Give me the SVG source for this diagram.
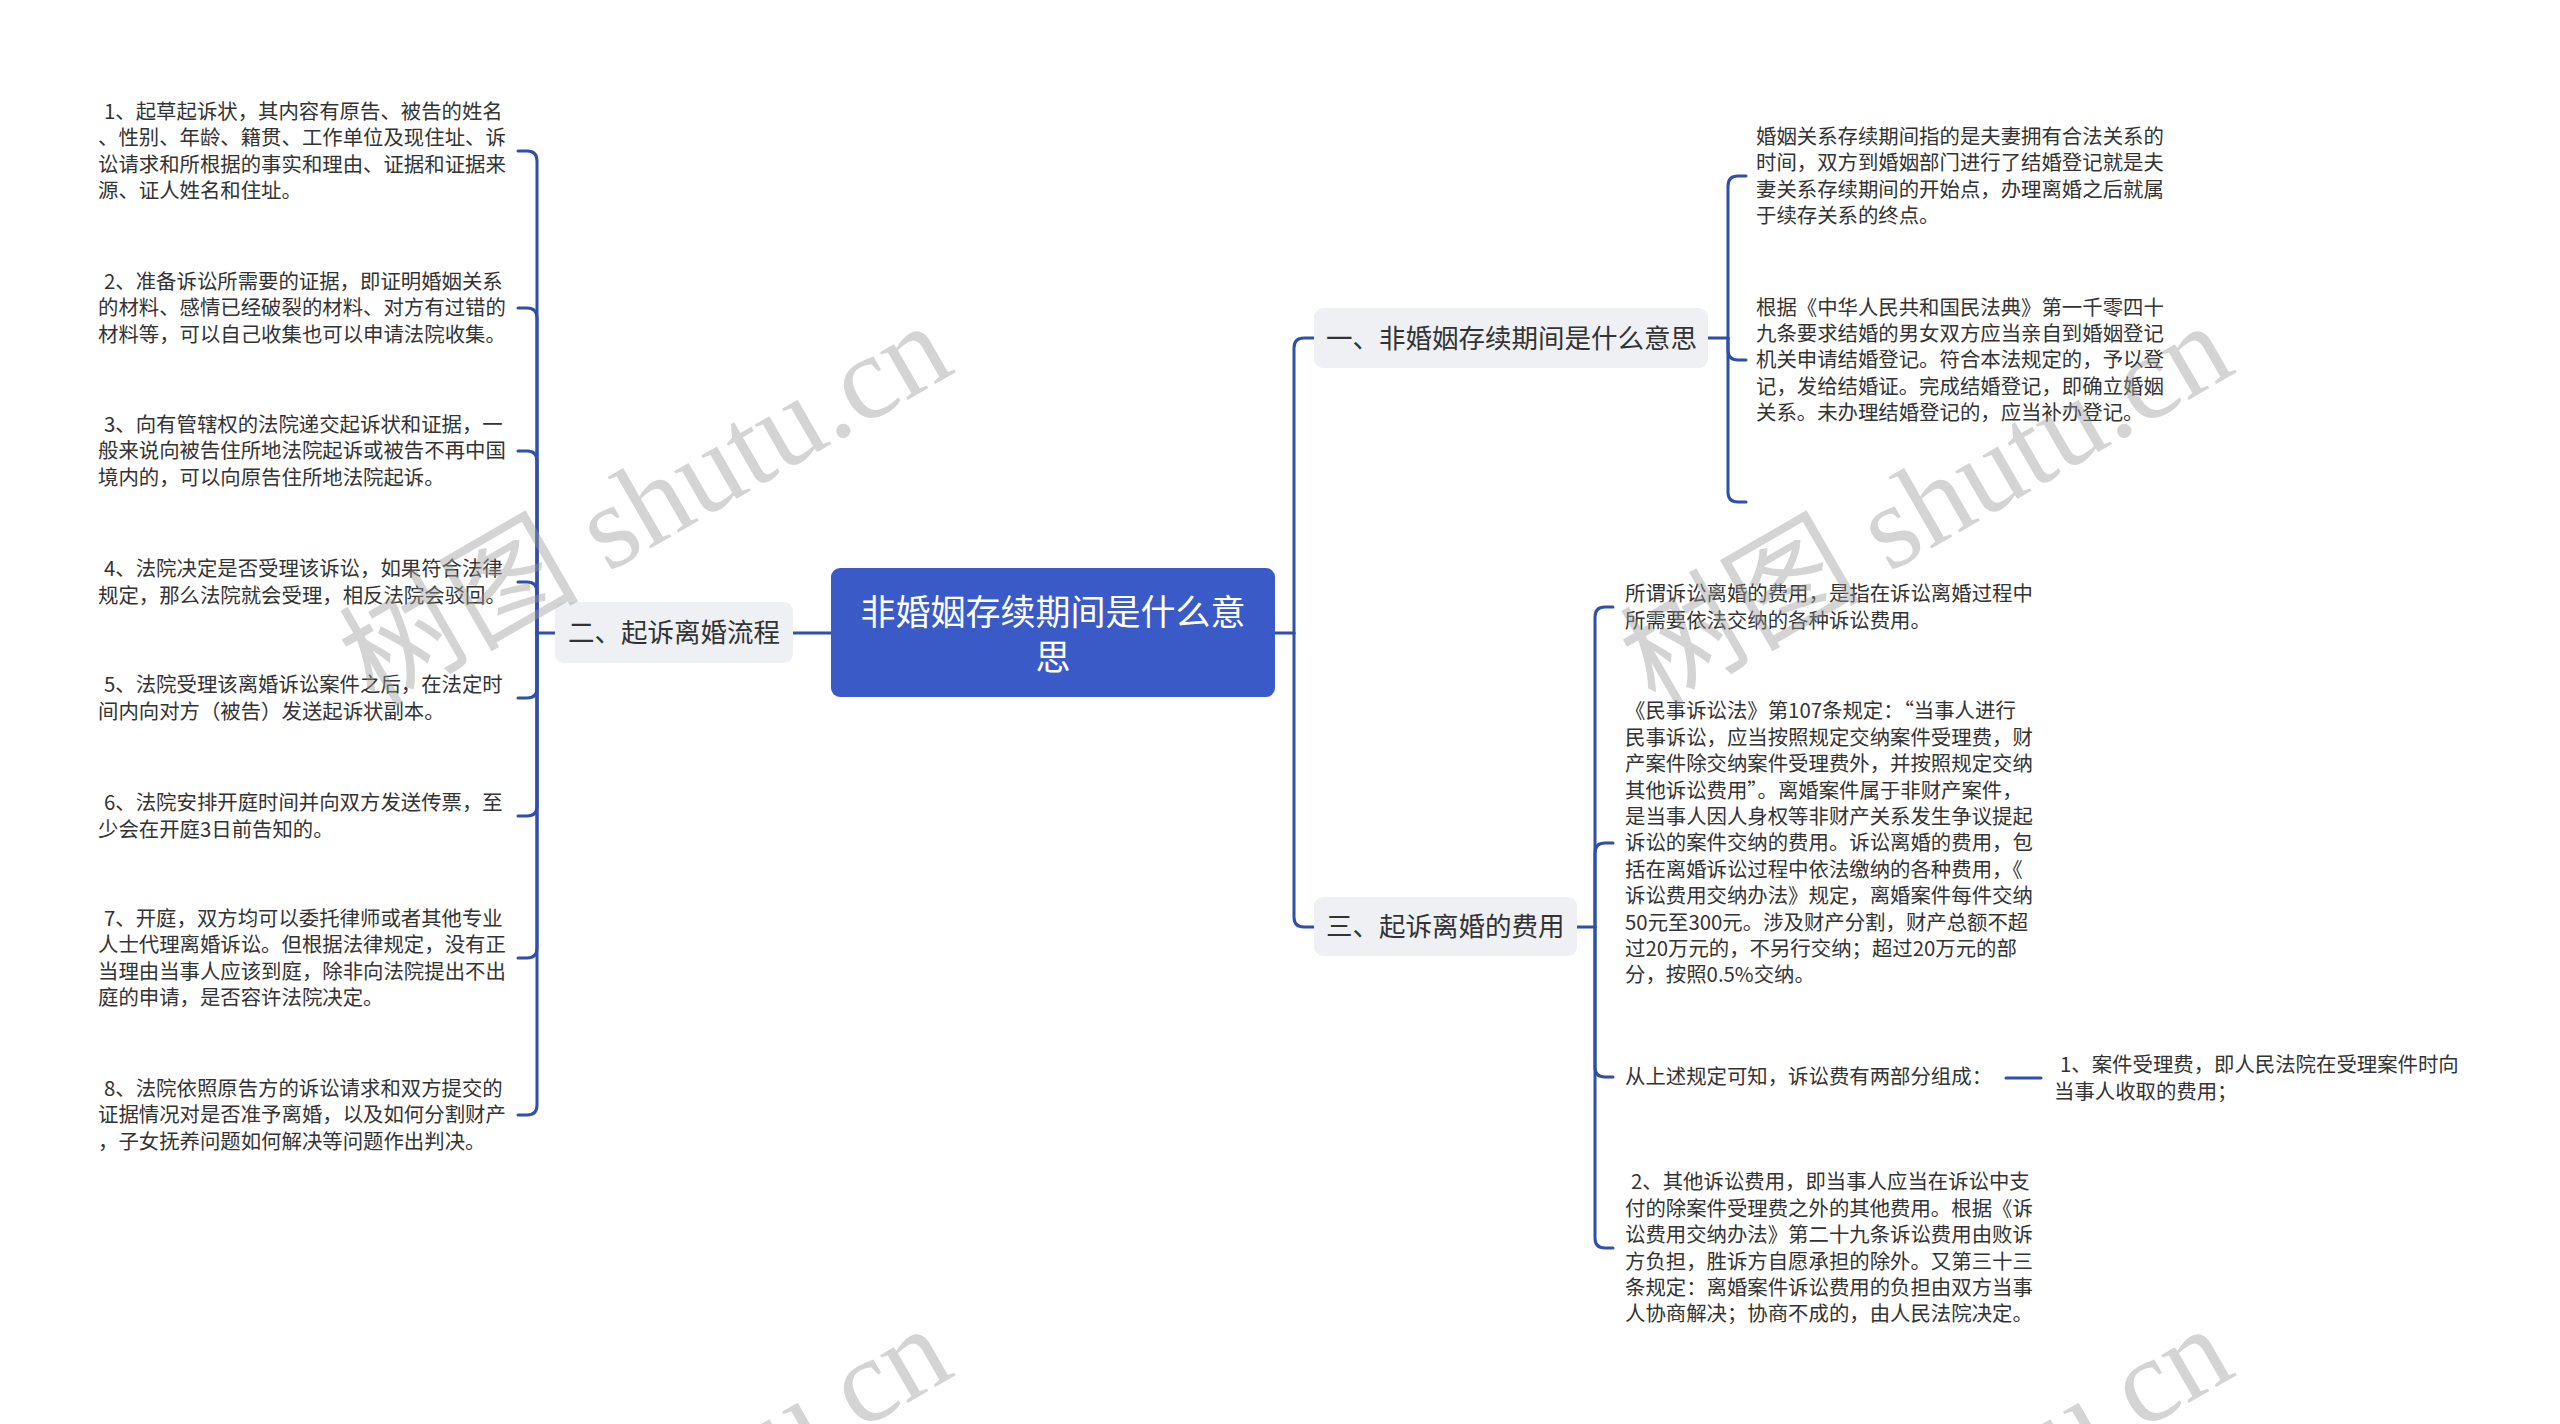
<svg xmlns="http://www.w3.org/2000/svg" width="2560" height="1424" viewBox="0 0 2560 1424">
<style>
text { font-family: "Noto Sans CJK SC", "Noto Sans", sans-serif; }
.leaf { font-size: 20.4px; fill: #333333; }
.topic-box { fill: #eef0f4; }
.topic { font-size: 26.5px; fill: #333333; }
.root-box { fill: #3a5bc7; }
.root { font-size: 35px; fill: #ffffff; }
.conn path { fill: none; stroke: #2f4fa8; stroke-width: 3; stroke-linecap: round; }
.wm { font-family: "Liberation Serif", "Noto Sans CJK SC", serif; font-size: 120px; fill: #999999; fill-opacity: 0.42; }
</style>
<rect width="2560" height="1424" fill="#ffffff"/>

<g id="connectors" class="conn">
  <path d="M831,633 H793"/>
  <path d="M555,633 H537"/>
  <path d="M537,633 V161 Q537,151 527,151 H518"/>
  <path d="M537,633 V318 Q537,308 527,308 H518"/>
  <path d="M537,633 V461 Q537,451 527,451 H518"/>
  <path d="M537,633 V592 Q537,582 527,582 H518"/>
  <path d="M537,633 V688 Q537,698 527,698 H518"/>
  <path d="M537,633 V806 Q537,816 527,816 H518"/>
  <path d="M537,633 V948 Q537,958 527,958 H518"/>
  <path d="M537,633 V1105 Q537,1115 527,1115 H518"/>
  <path d="M1275,633 H1294"/>
  <path d="M1294,633 V348 Q1294,338 1304,338 H1314"/>
  <path d="M1294,633 V917 Q1294,927 1304,927 H1314"/>
  <path d="M1708,338 H1728"/>
  <path d="M1728,338 V186 Q1728,176 1738,176 H1746"/>
  <path d="M1728,338 V350 Q1728,360 1738,360 H1746"/>
  <path d="M1728,338 V492 Q1728,502 1738,502 H1746"/>
  <path d="M1577,927 H1595"/>
  <path d="M1595,927 V617 Q1595,607 1605,607 H1613"/>
  <path d="M1595,927 V853 Q1595,843 1605,843 H1613"/>
  <path d="M1595,927 V1067 Q1595,1077 1605,1077 H1613"/>
  <path d="M1595,927 V1238 Q1595,1248 1605,1248 H1613"/>
  <path d="M2006,1078 H2041"/>
</g>

<g id="root">
  <rect class="root-box" x="831" y="568" width="444" height="129" rx="9"/>
  <text class="root" text-anchor="middle"><tspan x="1053" y="624.6">非婚姻存续期间是什么意</tspan><tspan x="1053" y="669.6">思</tspan></text>
</g>

<g id="topic-2">
  <rect class="topic-box" x="555" y="602" width="238" height="61" rx="9"/>
  <text class="topic" x="568" y="642">二、起诉离婚流程</text>
</g>
<g id="topic-1">
  <rect class="topic-box" x="1314" y="308" width="394" height="60" rx="9"/>
  <text class="topic" x="1326" y="347.5">一、非婚姻存续期间是什么意思</text>
</g>
<g id="topic-3">
  <rect class="topic-box" x="1314" y="897" width="263" height="59" rx="9"/>
  <text class="topic" x="1326" y="936">三、起诉离婚的费用</text>
</g>

<g id="leaf-2-1"><text class="leaf"><tspan x="104" y="118.7">1、起草起诉状，其内容有原告、被告的姓名</tspan><tspan x="98" dy="26.4">、性别、年龄、籍贯、工作单位及现住址、诉</tspan><tspan x="98" dy="26.4">讼请求和所根据的事实和理由、证据和证据来</tspan><tspan x="98" dy="26.4">源、证人姓名和住址。</tspan></text></g>
<g id="leaf-2-2"><text class="leaf"><tspan x="104" y="288.9">2、准备诉讼所需要的证据，即证明婚姻关系</tspan><tspan x="98" dy="26.4">的材料、感情已经破裂的材料、对方有过错的</tspan><tspan x="98" dy="26.4">材料等，可以自己收集也可以申请法院收集。</tspan></text></g>
<g id="leaf-2-3"><text class="leaf"><tspan x="104" y="431.9">3、向有管辖权的法院递交起诉状和证据，一</tspan><tspan x="98" dy="26.4">般来说向被告住所地法院起诉或被告不再中国</tspan><tspan x="98" dy="26.4">境内的，可以向原告住所地法院起诉。</tspan></text></g>
<g id="leaf-2-4"><text class="leaf"><tspan x="104" y="576.1">4、法院决定是否受理该诉讼，如果符合法律</tspan><tspan x="98" dy="26.4">规定，那么法院就会受理，相反法院会驳回。</tspan></text></g>
<g id="leaf-2-5"><text class="leaf"><tspan x="104" y="692.1">5、法院受理该离婚诉讼案件之后，在法定时</tspan><tspan x="98" dy="26.4">间内向对方（被告）发送起诉状副本。</tspan></text></g>
<g id="leaf-2-6"><text class="leaf"><tspan x="104" y="810.1">6、法院安排开庭时间并向双方发送传票，至</tspan><tspan x="98" dy="26.4">少会在开庭3日前告知的。</tspan></text></g>
<g id="leaf-2-7"><text class="leaf"><tspan x="104" y="925.7">7、开庭，双方均可以委托律师或者其他专业</tspan><tspan x="98" dy="26.4">人士代理离婚诉讼。但根据法律规定，没有正</tspan><tspan x="98" dy="26.4">当理由当事人应该到庭，除非向法院提出不出</tspan><tspan x="98" dy="26.4">庭的申请，是否容许法院决定。</tspan></text></g>
<g id="leaf-2-8"><text class="leaf"><tspan x="104" y="1095.9">8、法院依照原告方的诉讼请求和双方提交的</tspan><tspan x="98" dy="26.4">证据情况对是否准予离婚，以及如何分割财产</tspan><tspan x="98" dy="26.4">，子女抚养问题如何解决等问题作出判决。</tspan></text></g>

<g id="leaf-1-1"><text class="leaf"><tspan x="1756" y="143.7">婚姻关系存续期间指的是夫妻拥有合法关系的</tspan><tspan x="1756" dy="26.4">时间，双方到婚姻部门进行了结婚登记就是夫</tspan><tspan x="1756" dy="26.4">妻关系存续期间的开始点，办理离婚之后就属</tspan><tspan x="1756" dy="26.4">于续存关系的终点。</tspan></text></g>
<g id="leaf-1-2"><text class="leaf"><tspan x="1756" y="314.5">根据《中华人民共和国民法典》第一千零四十</tspan><tspan x="1756" dy="26.4">九条要求结婚的男女双方应当亲自到婚姻登记</tspan><tspan x="1756" dy="26.4">机关申请结婚登记。符合本法规定的，予以登</tspan><tspan x="1756" dy="26.4">记，发给结婚证。完成结婚登记，即确立婚姻</tspan><tspan x="1756" dy="26.4">关系。未办理结婚登记的，应当补办登记。</tspan></text></g>

<g id="leaf-3-1"><text class="leaf"><tspan x="1625" y="601.1">所谓诉讼离婚的费用，是指在诉讼离婚过程中</tspan><tspan x="1625" dy="26.4">所需要依法交纳的各种诉讼费用。</tspan></text></g>
<g id="leaf-3-2"><text class="leaf"><tspan x="1625" y="718.3">《民事诉讼法》第107条规定：“当事人进行</tspan><tspan x="1625" dy="26.4">民事诉讼，应当按照规定交纳案件受理费，财</tspan><tspan x="1625" dy="26.4">产案件除交纳案件受理费外，并按照规定交纳</tspan><tspan x="1625" dy="26.4">其他诉讼费用”。离婚案件属于非财产案件，</tspan><tspan x="1625" dy="26.4">是当事人因人身权等非财产关系发生争议提起</tspan><tspan x="1625" dy="26.4">诉讼的案件交纳的费用。诉讼离婚的费用，包</tspan><tspan x="1625" dy="26.4">括在离婚诉讼过程中依法缴纳的各种费用，《</tspan><tspan x="1625" dy="26.4">诉讼费用交纳办法》规定，离婚案件每件交纳</tspan><tspan x="1625" dy="26.4">50元至300元。涉及财产分割，财产总额不超</tspan><tspan x="1625" dy="26.4">过20万元的，不另行交纳；超过20万元的部</tspan><tspan x="1625" dy="26.4">分，按照0.5%交纳。</tspan></text></g>
<g id="leaf-3-3"><text class="leaf" x="1625" y="1084.3">从上述规定可知，诉讼费有两部分组成：</text></g>
<g id="leaf-3-3-1"><text class="leaf"><tspan x="2060" y="1072.1">1、案件受理费，即人民法院在受理案件时向</tspan><tspan x="2054" dy="26.4">当事人收取的费用；</tspan></text></g>
<g id="leaf-3-4"><text class="leaf"><tspan x="1631" y="1189.3">2、其他诉讼费用，即当事人应当在诉讼中支</tspan><tspan x="1625" dy="26.4">付的除案件受理费之外的其他费用。根据《诉</tspan><tspan x="1625" dy="26.4">讼费用交纳办法》第二十九条诉讼费用由败诉</tspan><tspan x="1625" dy="26.4">方负担，胜诉方自愿承担的除外。又第三十三</tspan><tspan x="1625" dy="26.4">条规定：离婚案件诉讼费用的负担由双方当事</tspan><tspan x="1625" dy="26.4">人协商解决；协商不成的，由人民法院决定。</tspan></text></g>

<g id="watermarks">
  <text class="wm" transform="translate(374,708) rotate(-30)">树图 shutu.cn</text>
  <text class="wm" transform="translate(1655,708) rotate(-30)">树图 shutu.cn</text>
  <text class="wm" transform="translate(374,1711) rotate(-30)">树图 shutu.cn</text>
  <text class="wm" transform="translate(1655,1711) rotate(-30)">树图 shutu.cn</text>
</g>
</svg>
